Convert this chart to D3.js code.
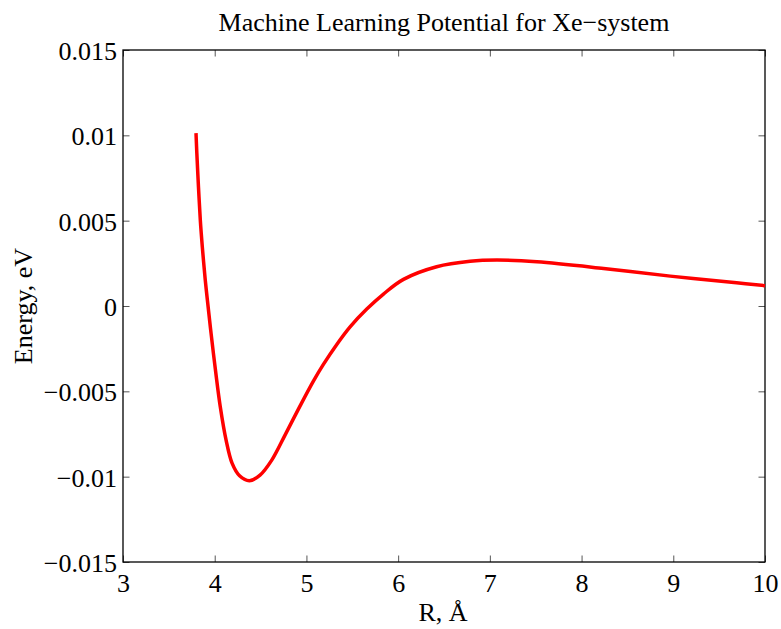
<!DOCTYPE html>
<html lang="en">
<head>
	<title>Machine Learning Potential for Xe-system</title>
	<script src="https://d3js.org/d3.v7.min.js" charset="utf-8"></script>
	<style>
		body{ margin: 0; background: #fff; }
		svg text{ font-family: "Liberation Serif", "Times New Roman", serif; font-size: 26px; }
	</style>
</head>
<body>
	<script>
		// Data
		var rValues = [3.796, 3.805, 3.823, 3.843, 3.865, 3.897, 3.920, 3.960, 4.012, 4.061, 4.124, 4.189,
			4.271, 4.378, 4.494, 4.622, 4.768, 4.931, 5.076, 5.185, 5.331, 5.476, 5.658, 5.84, 6.058, 6.42,
			6.785, 7.077, 7.513, 8.24, 8.967, 9.69, 10.0];
		var energyValues = [0.01013, 0.00896, 0.00697, 0.00503, 0.00345, 0.00152, 0.00035, -0.00159,
			-0.00393, -0.00592, -0.00786, -0.00921, -0.00995, -0.01024, -0.00991, -0.00903, -0.00755,
			-0.00585, -0.00440, -0.00342, -0.00225, -0.00122, -0.00018, 0.00070, 0.00156, 0.00230,
			0.00262, 0.00269, 0.00259, 0.00220, 0.00175, 0.00136, 0.00119];
		var xTicks = [3, 4, 5, 6, 7, 8, 9, 10];
		var yTicks = [-0.015, -0.01, -0.005, 0, 0.005, 0.01, 0.015];
		var yTickLabels = ["\u22120.015", "\u22120.01", "\u22120.005", "0", "0.005", "0.01", "0.015"];

		var w = 781, h = 629;
		var margin = {left: 123, right: 16, top: 50, bottom: 67};
		var fontFam = "Liberation Serif, Times New Roman, serif";

		var svg = d3.select("body").append("svg")
			.attr("width", w)
			.attr("height", h);

		var xScale = d3.scaleLinear()
			.domain([3, 10])
			.range([margin.left, w - margin.right]);

		var yScale = d3.scaleLinear()
			.domain([-0.015, 0.015])
			.range([h - margin.bottom, margin.top]);

		var tickLen = 6.5;

		// bottom axis (ticks pointing inward, MATLAB style)
		var xAxis = d3.axisBottom(xScale).tickValues(xTicks).tickSizeInner(-tickLen).tickSizeOuter(0).tickPadding(12)
			.tickFormat(d3.format("d"));
		var gx = svg.append("g")
			.attr("transform", "translate(0," + yScale.range()[0] + ")")
			.call(xAxis)
			.attr("font-family", fontFam)
			.attr("font-size", 26);
		gx.select(".domain").remove();
		gx.selectAll("text").attr("fill", "#000");
		gx.selectAll("line").attr("stroke", "#555");

		// top ticks
		var gxTop = svg.append("g")
			.attr("transform", "translate(0," + margin.top + ")")
			.call(d3.axisTop(xScale).tickValues(xTicks).tickSizeInner(-tickLen).tickSizeOuter(0).tickFormat(""));
		gxTop.select(".domain").remove();
		gxTop.selectAll("line").attr("stroke", "#555");

		// left axis
		var yAxis = d3.axisLeft(yScale).tickValues(yTicks).tickSizeInner(-tickLen).tickSizeOuter(0).tickPadding(6)
			.tickFormat(function(d, i){ return yTickLabels[i]; });
		var gy = svg.append("g")
			.attr("transform", "translate(" + margin.left + ",0)")
			.call(yAxis)
			.attr("font-family", fontFam)
			.attr("font-size", 26);
		gy.select(".domain").remove();
		gy.selectAll("text").attr("fill", "#000").attr("dy", "0.36em");
		gy.selectAll("line").attr("stroke", "#555");

		// right ticks
		var gyRight = svg.append("g")
			.attr("transform", "translate(" + (w - margin.right) + ",0)")
			.call(d3.axisRight(yScale).tickValues(yTicks).tickSizeInner(-tickLen).tickSizeOuter(0).tickFormat(""));
		gyRight.select(".domain").remove();
		gyRight.selectAll("line").attr("stroke", "#555");

		// box
		svg.append("rect")
			.attr("x", margin.left)
			.attr("y", margin.top)
			.attr("width", xScale.range()[1] - margin.left)
			.attr("height", yScale.range()[0] - margin.top)
			.attr("fill", "none")
			.attr("stroke", "#000")
			.attr("stroke-width", 1.3);

		// the curve
		var pts = rValues.map(function(r, i){ return [r, energyValues[i]]; });
		var line = d3.line()
			.x(function(d){ return xScale(d[0]); })
			.y(function(d){ return yScale(d[1]); })
			.curve(d3.curveCatmullRom.alpha(0.5));

		svg.append("path")
			.datum(pts)
			.attr("d", line)
			.attr("fill", "none")
			.attr("stroke", "#ff0000")
			.attr("stroke-width", 3.5);

		// Title
		svg.append("text")
			.attr("text-anchor", "middle")
			.attr("x", (margin.left + w - margin.right) / 2)
			.attr("y", 31)
			.text("Machine Learning Potential for Xe\u2212system");

		// X label
		svg.append("text")
			.attr("text-anchor", "middle")
			.attr("x", 443)
			.attr("y", 621)
			.text("R, \u00C5");

		// Y label
		svg.append("text")
			.attr("text-anchor", "middle")
			.attr("transform", "translate(32," + yScale(0) + ") rotate(-90)")
			.text("Energy, eV");
	</script>
</body>
</html>
